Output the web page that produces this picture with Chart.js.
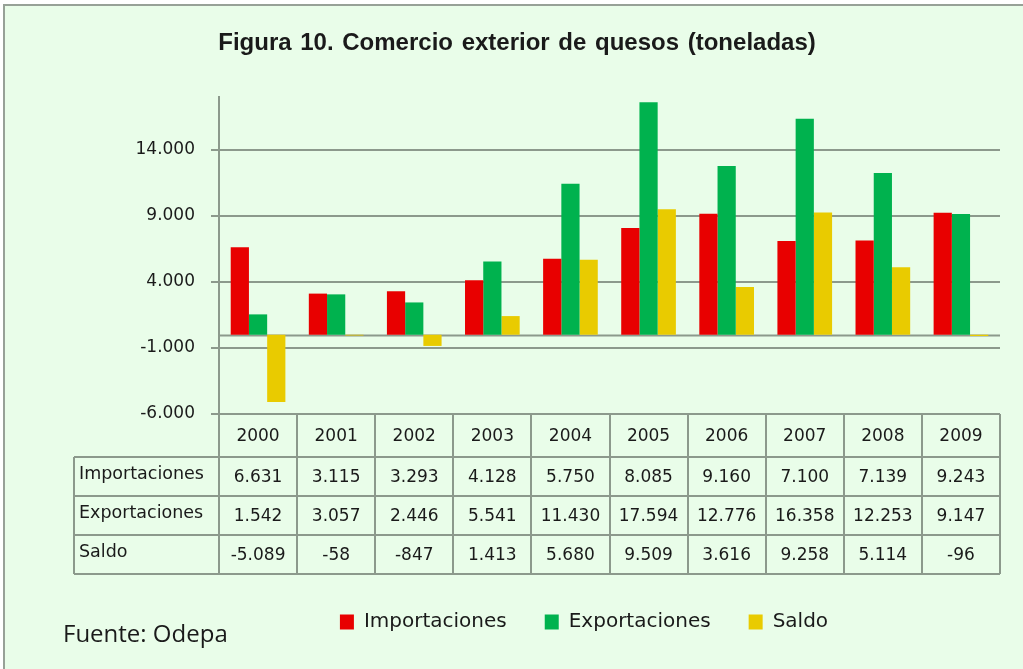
<!DOCTYPE html>
<html lang="es">
<head>
<meta charset="utf-8">
<title>Comercio exterior de quesos</title>
<script src="https://cdn.jsdelivr.net/npm/chart.js@4.4.1/dist/chart.umd.min.js"></script>
<style>
    body { margin: 0; background: #ffffff; }
    #wrap { position: relative; width: 1023px; height: 669px; overflow: hidden; }
    #frame {
        position: absolute; left: 3px; top: 4px; width: 1040px; height: 690px;
        background: #E9FDE9; border-top: 2px solid #97a197; border-left: 2px solid #97a197;
    }
    #chart { position: absolute; left: 0; top: 0; }
    .title {
        position: absolute; left: 0; width: 1034px; top: 28px; text-align: center;
        font: bold 24px "Liberation Sans", Arial, sans-serif; color: #1a1a1a; word-spacing: 2px;
    }
    .source {
        position: absolute; left: 63px; top: 616px;
        font: 24px "Open Sans", sans-serif; color: #1a1a1a;
    }
</style>
</head>
<body>
<div id="wrap">
    <div id="frame"></div>
    <canvas id="chart" width="1023" height="669"></canvas>
    <div class="title">Figura 10. Comercio exterior de quesos (toneladas)</div>
    <div class="source">Fuente: Odepa</div>
</div>
<script>
// Datos (toneladas)
const years = ['2000', '2001', '2002', '2003', '2004', '2005', '2006', '2007', '2008', '2009'];
const importaciones = [6631, 3115, 3293, 4128, 5750, 8085, 9160, 7100, 7139, 9243];
const exportaciones = [1542, 3057, 2446, 5541, 11430, 17594, 12776, 16358, 12253, 9147];
const saldo = [-5089, -58, -847, 1413, 5680, 9509, 3616, 9258, 5114, -96];
const seriesNames = ['Importaciones', 'Exportaciones', 'Saldo'];
const yTicks = [-6000, -1000, 4000, 9000, 14000];

const GRID = '#8c998c';
const TEXT = '#1a1a1a';
const FONT = "'DejaVu Sans', Verdana, sans-serif";

// 12345 -> "12.345"
function formatNum(v) {
    const s = Math.abs(v).toString().replace(/\B(?=(\d{3})+(?!\d))/g, '.');
    return (v < 0 ? '-' : '') + s;
}

// Linea del cero
const zeroLine = {
    id: 'zeroLine',
    beforeDatasetsDraw(chart) {
        const { ctx, chartArea, scales: { y } } = chart;
        const py = Math.round(y.getPixelForValue(0)) + 0.5;
        ctx.save();
        ctx.strokeStyle = GRID;
        ctx.lineWidth = 2;
        ctx.beginPath();
        ctx.moveTo(chartArea.left, py);
        ctx.lineTo(chartArea.right, py);
        ctx.stroke();
        ctx.restore();
    }
};

// Mueve la leyenda para centrarla como en el original
const legendOffset = {
    id: 'legendOffset',
    afterLayout(chart, args, opts) {
        const lg = chart.legend;
        const dx = opts.center - (lg.left + lg.right) / 2;
        lg.left += dx;
        lg.right += dx;
    }
};

// Tabla de datos bajo el grafico
const dataTable = {
    id: 'dataTable',
    afterDraw(chart) {
        const { ctx, chartArea, scales: { x } } = chart;
        const colW = x.width / years.length;
        const top = chartArea.bottom;
        const headerH = 43;
        const rowH = 39;
        const labelLeft = 74;
        const rows = [importaciones, exportaciones, saldo];
        const bottom = top + headerH + rowH * rows.length;

        ctx.save();
        ctx.strokeStyle = GRID;
        ctx.lineWidth = 2;
        ctx.beginPath();
        for (let i = 0; i <= years.length; i++) {
            const px = Math.round(x.getPixelForValue(i) - colW / 2);
            ctx.moveTo(px, top);
            ctx.lineTo(px, bottom);
        }
        ctx.moveTo(labelLeft, top + headerH);
        ctx.lineTo(labelLeft, bottom);
        for (let r = 0; r <= rows.length; r++) {
            const py = Math.round(top + headerH + r * rowH);
            ctx.moveTo(labelLeft, py);
            ctx.lineTo(x.right, py);
        }
        ctx.stroke();

        ctx.fillStyle = TEXT;
        ctx.font = '17px ' + FONT;
        ctx.textBaseline = 'middle';
        ctx.textAlign = 'center';
        years.forEach((yr, i) => {
            ctx.fillText(yr, x.getPixelForValue(i), top + headerH / 2 + 1);
        });
        rows.forEach((vals, r) => {
            const cy = top + headerH + r * rowH + rowH / 2;
            ctx.textAlign = 'left';
            ctx.font = '17.5px ' + FONT;
            ctx.fillText(seriesNames[r], labelLeft + 5, cy - 2);
            ctx.textAlign = 'center';
            ctx.font = '17px ' + FONT;
            vals.forEach((v, i) => ctx.fillText(formatNum(v), x.getPixelForValue(i), cy + 1));
        });
        ctx.restore();
    }
};

const ctx = document.getElementById('chart').getContext('2d');
new Chart(ctx, {
    type: 'bar',
    data: {
        labels: years,
        datasets: [
            { label: seriesNames[0], data: importaciones, backgroundColor: '#E80000' },
            { label: seriesNames[1], data: exportaciones, backgroundColor: '#00B24E' },
            { label: seriesNames[2], data: saldo, backgroundColor: '#E9CB00' }
        ]
    },
    options: {
        responsive: false,
        animation: false,
        layout: { padding: { left: 10, right: 23, top: 97, bottom: 27 } },
        datasets: {
            bar: { categoryPercentage: 0.7, barPercentage: 1.0, borderWidth: 0 }
        },
        plugins: {
            title: { display: false },
            tooltip: { enabled: false },
            legendOffset: { center: 584 },
            legend: {
                position: 'bottom',
                labels: {
                    boxWidth: 14,
                    boxHeight: 15,
                    padding: 38,
                    color: TEXT,
                    font: { family: FONT, size: 20 }
                }
            }
        },
        scales: {
            x: {
                grid: { display: false },
                border: { display: false },
                ticks: { display: false },
                afterFit: (scale) => { scale.height = 160; }
            },
            y: {
                min: -6000,
                max: 18000,
                afterBuildTicks: (scale) => { scale.ticks = yTicks.map(v => ({ value: v })); },
                afterFit: (scale) => { scale.width = 209; },
                grid: { color: GRID, lineWidth: 2, tickLength: 8 },
                border: { color: GRID, width: 2 },
                ticks: {
                    padding: 16,
                    color: TEXT,
                    font: { family: FONT, size: 17 },
                    callback: (value) => formatNum(value)
                }
            }
        }
    },
    plugins: [zeroLine, legendOffset, dataTable]
});
</script>
</body>
</html>
